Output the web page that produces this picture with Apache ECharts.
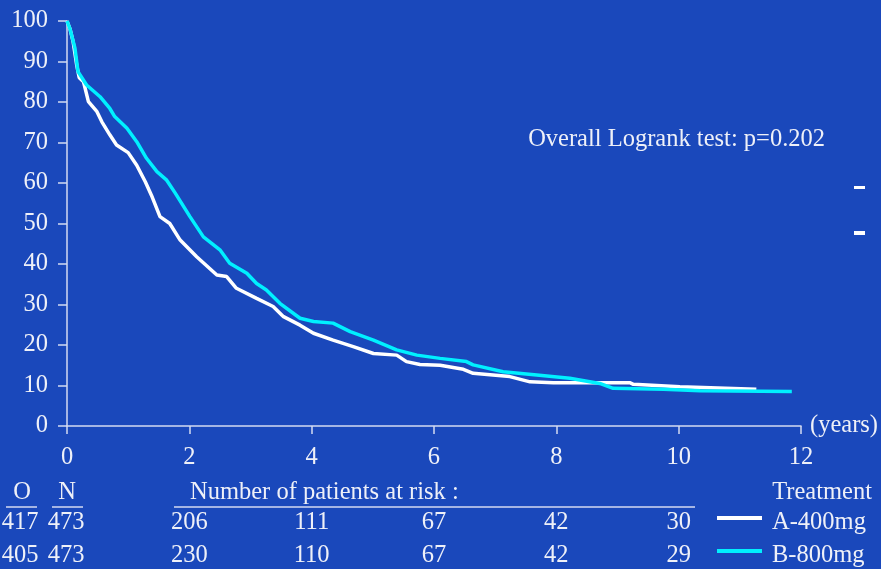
<!DOCTYPE html>
<html>
<head>
<meta charset="utf-8">
<script src="https://cdn.jsdelivr.net/npm/echarts@6/dist/echarts.min.js"></script>
<style>
  html, body { margin: 0; padding: 0; background: #1a48bb; }
  #chart { width: 881px; height: 569px; }
</style>
</head>
<body>
<div id="chart"></div>
<script>
// Kaplan-Meier estimates (years, % surviving)
const timesA = [0, 0.05, 0.1, 0.16, 0.2, 0.27, 0.35, 0.49, 0.57, 0.70, 0.81, 1.0, 1.14, 1.28, 1.38, 1.52, 1.68, 1.85, 2.12, 2.45, 2.61, 2.77, 3.1, 3.37, 3.54, 3.81, 4.03, 4.35, 4.68, 5.01, 5.39, 5.55, 5.77, 6.1, 6.48, 6.64, 7.24, 7.57, 7.95, 8.71, 9.2, 9.26, 10.02, 11.27];
const survA  = [100, 98, 94.9, 89, 86, 85, 80.1, 77.6, 75.1, 71.9, 69.4, 67.5, 64.4, 60.3, 57, 51.7, 50, 45.9, 41.8, 37.3, 36.9, 34, 31.5, 29.5, 27, 24.9, 22.9, 21.2, 19.6, 17.9, 17.5, 15.9, 15.2, 15, 14, 13, 12.2, 10.9, 10.7, 10.7, 10.7, 10.3, 9.7, 9.05];
const timesB = [0, 0.05, 0.13, 0.18, 0.32, 0.54, 0.70, 0.78, 0.98, 1.14, 1.30, 1.47, 1.63, 1.77, 2.01, 2.23, 2.50, 2.66, 2.94, 3.1, 3.26, 3.48, 3.81, 4.03, 4.35, 4.63, 5.01, 5.39, 5.72, 6.1, 6.53, 6.64, 7.13, 7.68, 8.22, 8.71, 8.93, 9.75, 10.35, 11.85];
const survB  = [100, 98, 93.3, 87.5, 84.2, 81.3, 78.4, 76.4, 73.5, 70.2, 66.1, 62.8, 60.7, 57.5, 51.7, 46.7, 43.5, 40.2, 37.7, 35.2, 33.6, 30.3, 26.6, 25.8, 25.4, 23.3, 21.2, 18.8, 17.5, 16.7, 15.9, 15.1, 13.4, 12.6, 11.8, 10.5, 9.3, 9.05, 8.7, 8.5];

const groupNames = ['A-400mg', 'B-800mg'];
const groupColors = ['#ffffff', '#00f0ff'];
const observed = [417, 405];
const enrolled = [473, 473];

// Number at risk
const riskTimes = [2, 4, 6, 8, 10];
const riskA = [206, 111, 67, 42, 30];
const riskB = [230, 110, 67, 42, 29];

const pValueText = 'Overall Logrank test: p=0.202';

const FONT = 'Liberation Serif';
const TXT = '#eef0f8';
const AX = '#d4daf2';
const FS = 24.5;

const chart = echarts.init(document.getElementById('chart'), null, { renderer: 'canvas' });

const pairs = (ts, vs) => ts.map((t, i) => [t, vs[i]]);

chart.setOption({
  backgroundColor: '#1a48bb',
  animation: false,
  grid: { left: 67, right: 80, top: 21, bottom: 143, containLabel: false },
  xAxis: {
    type: 'value', min: 0, max: 12, interval: 2,
    name: '(years)', nameLocation: 'end', nameGap: 9,
    nameTextStyle: { color: TXT, fontFamily: FONT, fontSize: FS, verticalAlign: 'middle' },
    axisLine: { show: true, lineStyle: { color: AX, width: 1.5 } },
    axisTick: { show: true, length: 8, lineStyle: { color: AX, width: 1.5 } },
    axisLabel: { color: TXT, fontFamily: FONT, fontSize: FS, margin: 19 },
    splitLine: { show: false }
  },
  yAxis: {
    type: 'value', min: 0, max: 100, interval: 10,
    axisLine: { show: true, lineStyle: { color: AX, width: 1.5 } },
    axisTick: { show: true, length: 9, lineStyle: { color: AX, width: 1.5 } },
    axisLabel: { color: TXT, fontFamily: FONT, fontSize: FS, margin: 19 },
    splitLine: { show: false }
  },
  series: [
    {
      name: groupNames[0], type: 'line', data: pairs(timesA, survA),
      showSymbol: false, symbol: 'none',
      lineStyle: { color: groupColors[0], width: 3.5 }
    },
    {
      name: groupNames[1], type: 'line', data: pairs(timesB, survB),
      showSymbol: false, symbol: 'none',
      lineStyle: { color: groupColors[1], width: 3.5 }
    }
  ]
});

// Risk table, headers, key and annotations placed against the x scale
function txt(x, y, s, align) {
  return {
    type: 'text', x: x, y: y, silent: true,
    style: { text: String(s), fill: TXT, font: FS + 'px "' + FONT + '"', textAlign: align || 'center', textVerticalAlign: 'middle' }
  };
}
function rule(x1, x2, y, color, w) {
  return { type: 'line', silent: true, shape: { x1: x1, y1: y, x2: x2, y2: y }, style: { stroke: color || AX, lineWidth: w || 1.5 } };
}

const els = [];
const rowY = [523, 556];
const headY = 493;
els.push(txt(22, headY, 'O'));
els.push(txt(67, headY, 'N'));
els.push(rule(6, 37, 507));
els.push(rule(52, 83, 507));
els.push(txt(190, headY, 'Number of patients at risk :', 'left'));
els.push(rule(174, 695, 507));
els.push(txt(872, headY, 'Treatment', 'right'));
[riskA, riskB].forEach((row, r) => {
  els.push(txt(20, rowY[r], observed[r]));
  els.push(txt(66, rowY[r], enrolled[r]));
  row.forEach((v, i) => {
    const px = chart.convertToPixel({ xAxisIndex: 0 }, riskTimes[i]);
    els.push(txt(px, rowY[r], v));
  });
  // key line and group name
  els.push(rule(717, 762, rowY[r] - 5, groupColors[r], 4));
  els.push(txt(772, rowY[r], groupNames[r], 'left'));
});
els.push(txt(825, 140, pValueText, 'right'));
els.push({ type: 'rect', silent: true, shape: { x: 854, y: 186, width: 11, height: 3 }, style: { fill: '#ffffff' } });
els.push({ type: 'rect', silent: true, shape: { x: 854, y: 231, width: 11, height: 4 }, style: { fill: '#ffffff' } });

chart.setOption({ graphic: { elements: els } });
</script>
</body>
</html>
